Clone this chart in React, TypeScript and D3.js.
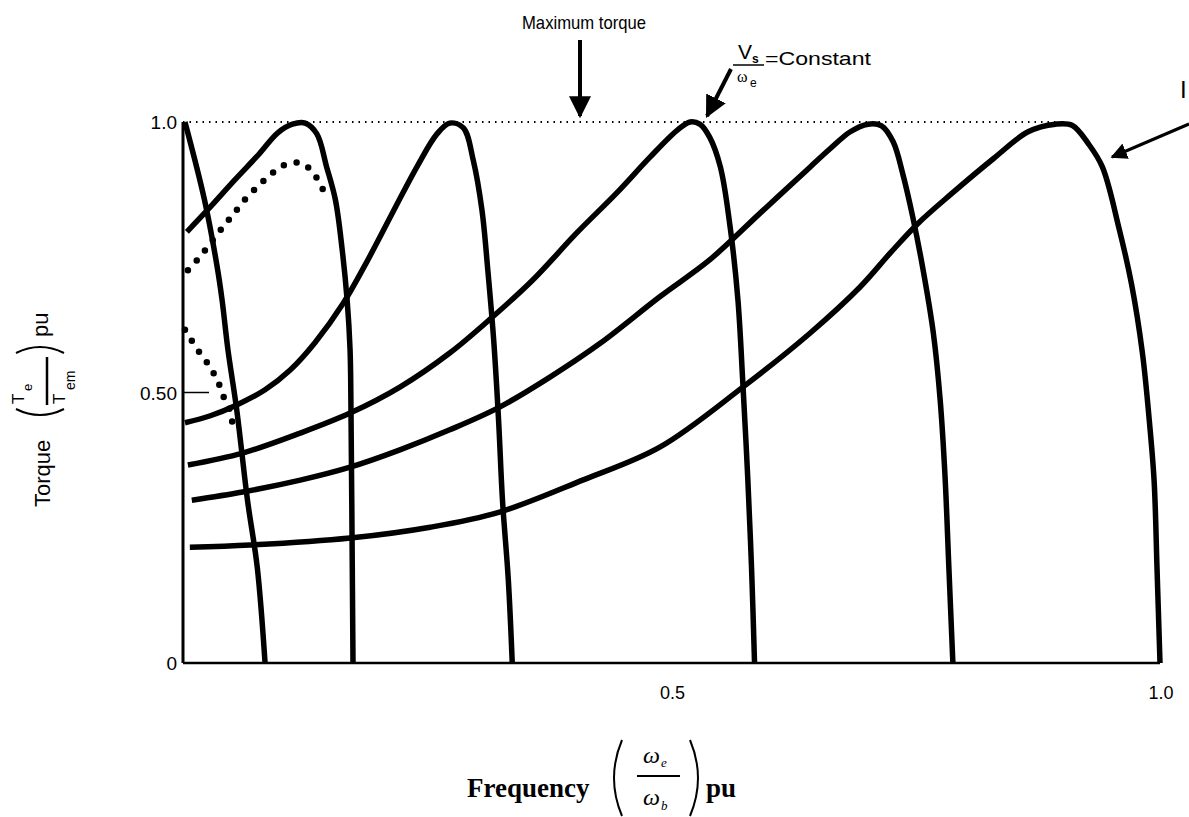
import React from 'react';
import * as d3 from 'd3';

// torque-speed curves: [frequency pu, torque pu]
const curveF1 = [
  [0.002, 1.0], [0.022, 0.856], [0.035, 0.732], [0.04, 0.671], [0.046, 0.579],
  [0.055, 0.468], [0.066, 0.301], [0.076, 0.177], [0.084, 0.0],
];
const curveF2 = [
  [0.004, 0.797], [0.028, 0.843], [0.053, 0.893], [0.077, 0.939], [0.097, 0.98],
  [0.112, 0.996], [0.125, 0.998], [0.137, 0.978], [0.147, 0.917], [0.156, 0.856],
  [0.163, 0.763], [0.168, 0.671], [0.171, 0.579], [0.172, 0.455], [0.173, 0.24], [0.174, 0.0],
];
const curveF3 = [
  [0.002, 0.444], [0.028, 0.457], [0.055, 0.477], [0.084, 0.505], [0.11, 0.542],
  [0.135, 0.592], [0.164, 0.665], [0.188, 0.741], [0.215, 0.834], [0.24, 0.919],
  [0.26, 0.978], [0.273, 0.998], [0.287, 0.989], [0.297, 0.93], [0.306, 0.837],
  [0.312, 0.726], [0.318, 0.597], [0.323, 0.449], [0.327, 0.301], [0.333, 0.153], [0.337, 0.0],
];
const curveF4 = [
  [0.005, 0.366], [0.061, 0.388], [0.12, 0.425], [0.171, 0.462], [0.222, 0.51],
  [0.273, 0.573], [0.317, 0.64], [0.358, 0.708], [0.403, 0.795], [0.444, 0.869],
  [0.478, 0.935], [0.506, 0.985], [0.519, 1.0], [0.529, 0.996], [0.539, 0.972],
  [0.55, 0.917], [0.56, 0.806], [0.568, 0.671], [0.573, 0.518], [0.578, 0.344],
  [0.582, 0.172], [0.585, 0.0],
];
const curveF5 = [
  [0.009, 0.301], [0.061, 0.316], [0.12, 0.338], [0.171, 0.362], [0.222, 0.394],
  [0.273, 0.431], [0.324, 0.473], [0.376, 0.529], [0.427, 0.591], [0.488, 0.677],
  [0.539, 0.745], [0.591, 0.832], [0.642, 0.917], [0.662, 0.95], [0.683, 0.982],
  [0.701, 0.996], [0.715, 0.993], [0.727, 0.963], [0.737, 0.902], [0.747, 0.824],
  [0.757, 0.732], [0.768, 0.61], [0.775, 0.486], [0.78, 0.344], [0.784, 0.172], [0.788, 0.0],
];
const curveF6 = [
  [0.007, 0.214], [0.069, 0.218], [0.171, 0.231], [0.253, 0.251], [0.324, 0.279],
  [0.409, 0.338], [0.488, 0.399], [0.573, 0.51], [0.642, 0.61], [0.693, 0.695],
  [0.724, 0.758], [0.752, 0.812], [0.787, 0.868], [0.83, 0.933], [0.865, 0.982],
  [0.893, 0.996], [0.91, 0.994], [0.927, 0.959], [0.941, 0.917], [0.958, 0.804],
  [0.971, 0.699], [0.982, 0.573], [0.989, 0.449], [0.994, 0.336], [0.997, 0.172], [1.0, 0.0],
];
// dotted curves near the origin
const boostUpper = [
  [0.005, 0.726], [0.017, 0.75], [0.04, 0.804], [0.051, 0.828], [0.063, 0.856],
  [0.076, 0.88], [0.088, 0.9], [0.102, 0.919], [0.121, 0.924], [0.134, 0.904],
  [0.143, 0.876], [0.15, 0.856],
];
const boostLower = [
  [0.002, 0.616], [0.015, 0.579], [0.027, 0.549], [0.036, 0.519], [0.042, 0.49],
  [0.049, 0.462], [0.051, 0.425],
];

const solidCurves = [curveF1, curveF2, curveF3, curveF4, curveF5, curveF6];
const dottedCurves = [boostUpper, boostLower];

const yTicks = [0, 0.5, 1.0];
const yTickLabels = ['0', '0.50', '1.0'];
const xTicks = [0.5, 1.0];
const xTickLabels = ['0.5', '1.0'];

const W = 1189;
const H = 817;
const sans = 'Liberation Sans, Arial, sans-serif';
const serif = 'Liberation Serif, Times New Roman, serif';

export default function App() {
  const x = d3.scaleLinear().domain([0, 1]).range([183, 1160]);
  const y = d3.scaleLinear().domain([0, 1]).range([663, 122]);
  const line = d3
    .line<number[]>()
    .x(d => x(d[0]))
    .y(d => y(d[1]))
    .curve(d3.curveCatmullRom.alpha(0.5));

  return (
    <svg
      width={W}
      height={H}
      style={{ position: 'absolute', left: 0, top: 0, background: '#fff' }}
    >
      <defs>
        <marker id="head" viewBox="0 0 10 10" refX="9" refY="5" markerWidth="5.5" markerHeight="5.5" orient="auto">
          <path d="M0,0 L10,5 L0,10 z" fill="#000" />
        </marker>
      </defs>

      {/* maximum torque line */}
      <line
        x1={x(0)} x2={x(0.9)} y1={y(1)} y2={y(1)}
        stroke="#000" strokeWidth={2} strokeDasharray="1.5 5"
      />

      {/* axes */}
      <line x1={x(0)} x2={x(0)} y1={y(1)} y2={y(0)} stroke="#000" strokeWidth={3} />
      <line x1={x(0)} x2={x(1)} y1={y(0)} y2={y(0)} stroke="#000" strokeWidth={2.5} />
      <line x1={x(0)} x2={x(0) + 26} y1={y(0.5)} y2={y(0.5)} stroke="#000" strokeWidth={1.5} />

      {yTicks.map((t, i) => (
        <text key={'y' + i} x={x(0) - 6} y={y(t) + 7} textAnchor="end" fontFamily={sans} fontSize={19}>
          {yTickLabels[i]}
        </text>
      ))}
      {xTicks.map((t, i) => (
        <text key={'x' + i} x={x(t) + 1} y={y(0) + 36} textAnchor="middle" fontFamily={sans} fontSize={18}>
          {xTickLabels[i]}
        </text>
      ))}

      {/* curves */}
      {solidCurves.map((c, i) => (
        <path key={'c' + i} d={line(c) || ''} fill="none" stroke="#000" strokeWidth={5.5} strokeLinejoin="round" />
      ))}
      {dottedCurves.map((c, i) => (
        <path
          key={'d' + i} d={line(c) || ''} fill="none" stroke="#000"
          strokeWidth={6.5} strokeLinecap="round" strokeDasharray="0 13"
        />
      ))}

      {/* annotations */}
      <text x={522} y={29} fontFamily={sans} fontSize={19} textLength={124} lengthAdjust="spacingAndGlyphs">
        Maximum torque
      </text>
      <line x1={580} y1={40} x2={580} y2={116} stroke="#000" strokeWidth={4} markerEnd="url(#head)" />

      <text x={738} y={59} fontFamily={sans} fontSize={21}>V</text>
      <text x={752} y={63} fontFamily={sans} fontSize={12} fontWeight="bold">s</text>
      <line x1={733} x2={764} y1={65} y2={65} stroke="#000" strokeWidth={1.5} />
      <text x={737} y={82} fontFamily={serif} fontSize={16}>ω</text>
      <text x={750} y={87} fontFamily={sans} fontSize={12}>e</text>
      <text x={765} y={65} fontFamily={sans} fontSize={19} textLength={106} lengthAdjust="spacingAndGlyphs">
        =Constant
      </text>
      <line x1={731} y1={69} x2={707} y2={116} stroke="#000" strokeWidth={4} markerEnd="url(#head)" />

      <text x={1180} y={98} fontFamily={sans} fontSize={24}>I</text>
      <line x1={1189} y1={124} x2={1112} y2={157} stroke="#000" strokeWidth={3} markerEnd="url(#head)" />

      {/* y axis title, rotated: local x runs upward, local y runs right */}
      <g transform="translate(50,507) rotate(-90)" fontFamily={sans}>
        <text x={0} y={0} fontSize={22}>Torque</text>
        <path d="M98,-34 Q86,-10 98,14" fill="none" stroke="#000" strokeWidth={2} />
        <text x={103} y={-26} fontSize={17}>T</text>
        <text x={116} y={-18} fontSize={13}>e</text>
        <line x1={102} x2={150} y1={-3} y2={-3} stroke="#000" strokeWidth={2.5} />
        <text x={103} y={15} fontSize={17}>T</text>
        <text x={117} y={25} fontSize={14}>em</text>
        <path d="M154,-34 Q166,-10 154,14" fill="none" stroke="#000" strokeWidth={2} />
        <text x={170} y={-2} fontSize={22}>pu</text>
      </g>

      {/* x axis title */}
      <text x={467} y={797} fontFamily={serif} fontSize={27} fontWeight="bold">Frequency</text>
      <path d="M622,740 Q606,778 622,816" fill="none" stroke="#000" strokeWidth={2} />
      <text x={643} y={763} fontFamily={serif} fontSize={24} fontStyle="italic">ω</text>
      <text x={661} y={767} fontFamily={serif} fontSize={13} fontStyle="italic">e</text>
      <line x1={637} x2={680} y1={776} y2={776} stroke="#000" strokeWidth={2} />
      <text x={643} y={805} fontFamily={serif} fontSize={24} fontStyle="italic">ω</text>
      <text x={661} y={810} fontFamily={serif} fontSize={13} fontStyle="italic">b</text>
      <path d="M690,740 Q706,778 690,816" fill="none" stroke="#000" strokeWidth={2} />
      <text x={706} y={797} fontFamily={serif} fontSize={27} fontWeight="bold">pu</text>
    </svg>
  );
}
